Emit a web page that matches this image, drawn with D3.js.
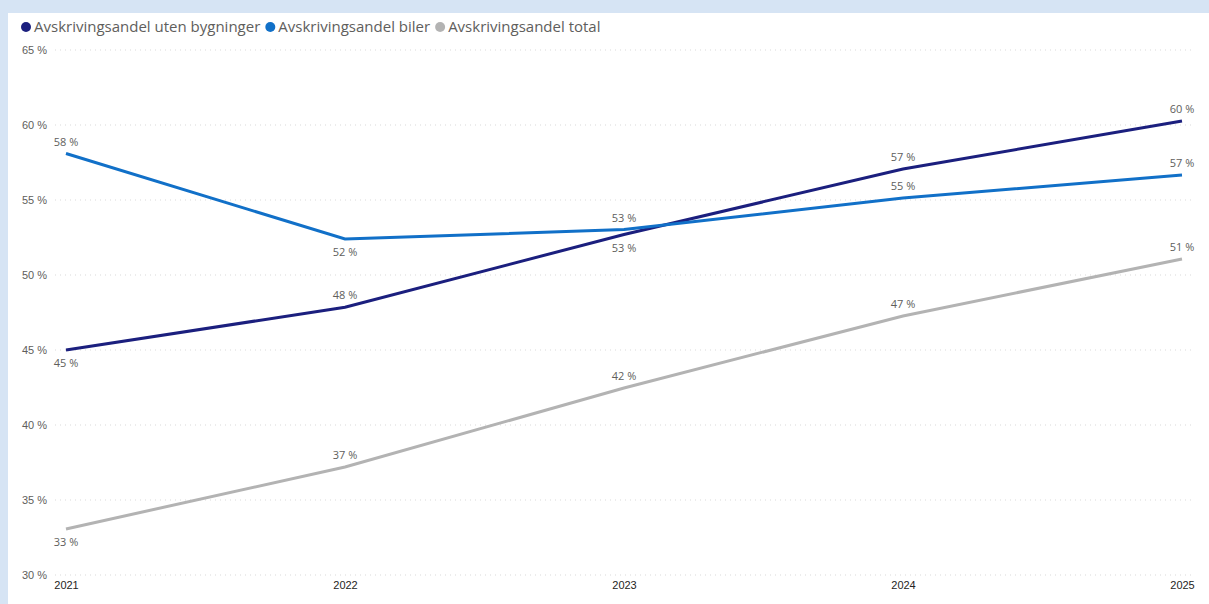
<!DOCTYPE html>
<html>
<head>
<meta charset="utf-8">
<script src="https://cdn.jsdelivr.net/npm/d3@7"></script>
<style>
  body { margin: 0; background: #fff; }
  svg { display: block; font-family: "Segoe UI", "Open Sans", "Noto Sans", sans-serif; }
</style>
</head>
<body>
<div id="chart"></div>
<script>
// data
let years = ["2021", "2022", "2023", "2024", "2025"];
let utenBygninger = [45.0, 47.85, 52.7, 57.07, 60.27];
let biler = [58.1, 52.4, 53.03, 55.13, 56.67];
let total = [33.07, 37.2, 42.47, 47.27, 51.07];
let yTicks = [30, 35, 40, 45, 50, 55, 60, 65];

// label above (-1) or below (1) the point
let series = [
	{ name: "Avskrivingsandel uten bygninger", values: utenBygninger, color: "#1b1f7e", side: [1, -1, 1, -1, -1] },
	{ name: "Avskrivingsandel biler", values: biler, color: "#1170c8", side: [-1, 1, -1, -1, -1] },
	{ name: "Avskrivingsandel total", values: total, color: "#b3b3b3", side: [1, -1, -1, -1, -1] }
];

let W = 1209, H = 604;

let svg = d3.select("#chart").append("svg")
	.attr("width", W)
	.attr("height", H);

// frame
svg.append("rect").attr("x", 0).attr("y", 0).attr("width", W).attr("height", 13).attr("fill", "#d6e4f4");
svg.append("rect").attr("x", 0).attr("y", 0).attr("width", 8).attr("height", H).attr("fill", "#d6e4f4");

let x = d3.scalePoint().domain(years).range([66, 1182]);
let y = d3.scaleLinear().domain([30, 65]).range([575, 50]);

// gridlines
svg.append("g")
	.selectAll("line")
	.data(yTicks)
	.enter().append("line")
	.attr("x1", 55)
	.attr("x2", 1192)
	.attr("y1", (d) => y(d))
	.attr("y2", (d) => y(d))
	.attr("stroke", "#d9d9d9")
	.attr("stroke-width", 1)
	.attr("stroke-dasharray", "1,4");

// y axis
let yAxis = d3.axisLeft(y)
	.tickValues(yTicks)
	.tickFormat((d) => d + " %")
	.tickSize(0)
	.tickPadding(0);

let yg = svg.append("g")
	.attr("transform", "translate(47,0)")
	.call(yAxis);
yg.select(".domain").remove();
yg.selectAll("text")
	.attr("fill", "#605e5c")
	.style("font-size", "11px");

// x axis
let xAxis = d3.axisBottom(x).tickSize(0).tickPadding(0);
let xg = svg.append("g")
	.attr("transform", "translate(0,581)")
	.call(xAxis);
xg.select(".domain").remove();
xg.selectAll("text")
	.attr("fill", "#252423")
	.style("font-size", "11px");

// lines
let line = d3.line()
	.x((d, i) => x(years[i]))
	.y((d) => y(d));

svg.append("g")
	.selectAll("path")
	.data(series)
	.enter().append("path")
	.attr("d", (s) => line(s.values))
	.attr("fill", "none")
	.attr("stroke", (s) => s.color)
	.attr("stroke-width", 3);

// data labels
series.forEach((s) => {
	svg.append("g")
		.selectAll("text")
		.data(s.values)
		.enter().append("text")
		.attr("x", (d, i) => x(years[i]))
		.attr("y", (d, i) => y(d) + (s.side[i] < 0 ? -8 : 17))
		.attr("text-anchor", "middle")
		.attr("fill", "#605e5c")
		.style("font-size", "11px")
		.text((d) => Math.round(d) + " %");
});

// legend
let legend = svg.append("g");
let lx = 21;
series.forEach((s) => {
	legend.append("circle")
		.attr("cx", lx + 5)
		.attr("cy", 27)
		.attr("r", 5)
		.attr("fill", s.color);
	let t = legend.append("text")
		.attr("x", lx + 13)
		.attr("y", 32)
		.attr("fill", "#605e5c")
		.style("font-size", "15px")
		.text(s.name);
	lx += 13 + t.node().getComputedTextLength() + 5;
});
</script>
</body>
</html>
